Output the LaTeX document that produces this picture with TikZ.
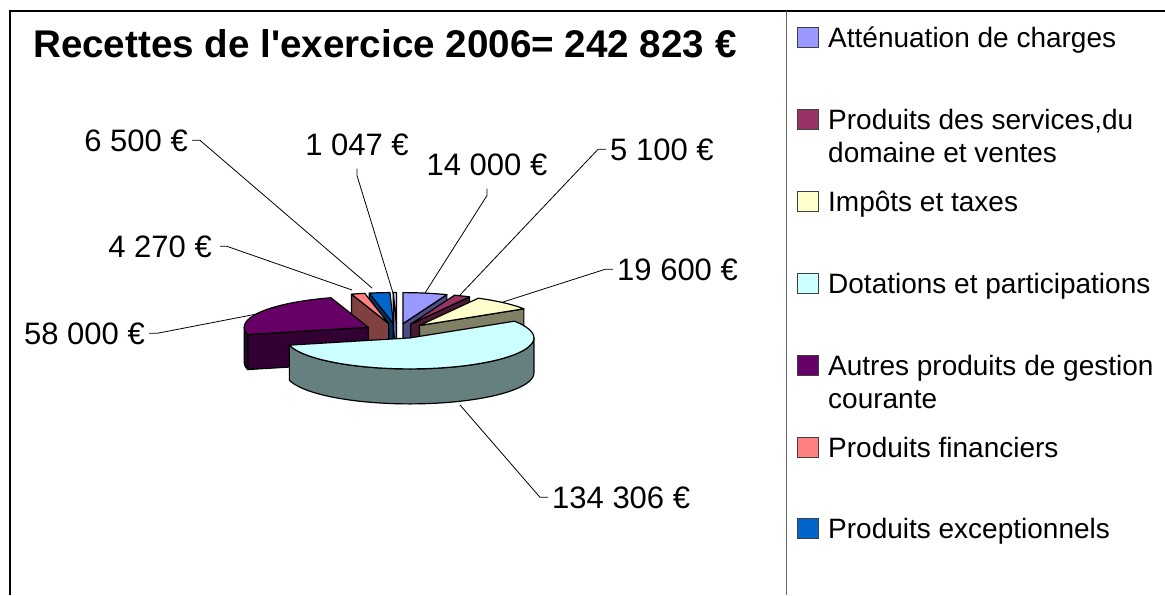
\documentclass[tikz,border=0pt]{standalone}
\usepackage{fontspec}
\setmainfont{Liberation Sans}
\newfontfamily\titlefont{Liberation Sans}

\definecolor{attenuation}{HTML}{9999FF}
\definecolor{services}{HTML}{993366}
\definecolor{impots}{HTML}{FFFFCC}
\definecolor{dotations}{HTML}{CCFFFF}
\definecolor{autres}{HTML}{660066}
\definecolor{financiers}{HTML}{FF8080}
\definecolor{exceptionnels}{HTML}{0066CC}
\definecolor{divers}{HTML}{CCCCFF}

\tikzset{
  slice/.style={draw=black, line width=1.2pt, line join=round},
  leader/.style={draw=black, line width=0.8pt},
  value/.style={font=\fontsize{31}{36}\selectfont, inner sep=4pt},
  legtext/.style={font=\fontsize{28}{33}\selectfont, anchor=base west, inner sep=0pt},
  legkey/.style={draw=black!75, line width=0.8pt, minimum width=21pt, minimum height=20pt, inner sep=0pt, anchor=south west}
}

\begin{document}
\begin{tikzpicture}[x=1pt, y=-1pt]
        \useasboundingbox (0,0) rectangle (1165,595);
        \def\piex{124}
        \def\piey{31}
        \def\pieh{35}

        % Frame and legend divider
        \draw[line width=2.5pt] (1165,11) -- (10,11) -- (10,595);
        \draw[black!60, line width=1pt] (786,11) -- (786,595);

        % Title
        \node[anchor=base west, inner sep=0pt, font=\titlefont\bfseries\fontsize{38.6}{44}\selectfont] (title) at (33,57) {Recettes de l'exercice 2006= 242 823 €};

        % Value labels and their leaders
        \node[value, anchor=base east] (l6500) at (192,151) {6 500 €};
        \node[value, anchor=base] (l1047) at (357,155) {1 047 €};
        \node[value, anchor=base east] (l4270) at (216,257) {4 270 €};
        \node[value, anchor=base] (l14000) at (487,175) {14 000 €};
        \node[value, anchor=base west] (l5100) at (606,160) {5 100 €};
        \node[value, anchor=base west] (l19600) at (613,280) {19 600 €};
        \node[value, anchor=base east] (l58000) at (149,344) {58 000 €};
        \node[value, anchor=base west] (l134306) at (548,508) {134 306 €};

        \coordinate (t6500) at (372,288);
        \coordinate (t1047) at (393,293);
        \coordinate (t4270) at (352,290);
        \coordinate (t14000) at (425,293);
        \coordinate (t5100) at (460,295);
        \coordinate (t19600) at (503,302);
        \coordinate (t58000) at (262,313);
        \coordinate (t134306) at (460,405);

        \draw[leader] (l6500.east) -- ++(8,0) -- (t6500);
        \draw[leader] (l1047.south) ++(0,9) -- ++(0,7) -- (t1047);
        \draw[leader] (l4270.east) ++(4,0) -- ++(7,0) -- (t4270);
        \draw[leader] (l14000.south) ++(0,9) -- ++(0,7) -- (t14000);
        \draw[leader] (l5100.west) -- ++(-8,0) -- (t5100);
        \draw[leader] (l19600.west) -- ++(-8,0) -- (t19600);
        \draw[leader] (l58000.east) -- ++(8,0) -- (t58000);
        \draw[leader] (l134306.west) -- ++(-8,0) -- (t134306);

        % Exploded pie, back slices first: start/end angle, colour, outer side from/to
        \foreach \a/\b/\col/\sa/\sb in {91.551/90/divers/0/0, 101.188/91.551/exceptionnels/0/0,
            107.519/101.188/financiers/0/0, 90/69.244/attenuation/0/0, 69.244/61.683/services/0/0,
            61.683/32.625/impots/0/0, 193.508/107.519/autres/193.508/180, 32.625/-166.492/dotations/0/-166.492}
        {
            \pgfmathsetmacro\m{(\a+\b)/2}
            \pgfmathsetmacro\ax{397+33*cos(\m)}
            \pgfmathsetmacro\ay{331-7.5*sin(\m)}
            \pgfmathtruncatemacro\fa{cos(\a)<-0.01}
            \pgfmathtruncatemacro\fb{cos(\b)>0.01}
            \pgfmathtruncatemacro\fs{abs(\sa-\sb)>0.01}
            \ifnum\fa=1
                \filldraw[slice, fill=\col!50!black] (\ax,\ay) -- ({\ax+\piex*cos(\a)},{\ay-\piey*sin(\a)}) -- ++(0,\pieh) -- (\ax,{\ay+\pieh}) -- cycle;
            \fi
            \ifnum\fb=1
                \filldraw[slice, fill=\col!50!black] (\ax,\ay) -- ({\ax+\piex*cos(\b)},{\ay-\piey*sin(\b)}) -- ++(0,\pieh) -- (\ax,{\ay+\pieh}) -- cycle;
            \fi
            \ifnum\fs=1
                \filldraw[slice, fill=\col!50!black] plot[domain=\sa:\sb, samples=50, smooth, variable=\t] ({\ax+\piex*cos(\t)},{\ay-\piey*sin(\t)})
                    -- plot[domain=\sb:\sa, samples=50, smooth, variable=\t] ({\ax+\piex*cos(\t)},{\ay+\pieh-\piey*sin(\t)}) -- cycle;
            \fi
            \filldraw[slice, fill=\col] (\ax,\ay) -- plot[domain=\a:\b, samples=50, smooth, variable=\t] ({\ax+\piex*cos(\t)},{\ay-\piey*sin(\t)}) -- cycle;
        }

        % Legend
        \node[legkey, fill=attenuation] (k1) at (797,47.5) {};
        \node[legtext] (e1) at (828,47) {Atténuation de charges};
        \node[legkey, fill=services] (k2) at (797,129.5) {};
        \node[legtext] (e2) at (828,129) {Produits des services,du};
        \node[legtext] (e2b) at (828,162) {domaine et ventes};
        \node[legkey, fill=impots] (k3) at (797,211.5) {};
        \node[legtext] (e3) at (828,211) {Impôts et taxes};
        \node[legkey, fill=dotations] (k4) at (797,293.5) {};
        \node[legtext] (e4) at (828,293) {Dotations et participations};
        \node[legkey, fill=autres] (k5) at (797,375.5) {};
        \node[legtext] (e5) at (828,375) {Autres produits de gestion};
        \node[legtext] (e5b) at (828,408) {courante};
        \node[legkey, fill=financiers] (k6) at (797,457.5) {};
        \node[legtext] (e6) at (828,457) {Produits financiers};
        \node[legkey, fill=exceptionnels] (k7) at (797,538.5) {};
        \node[legtext] (e7) at (828,538) {Produits exceptionnels};
\end{tikzpicture}
\end{document}
